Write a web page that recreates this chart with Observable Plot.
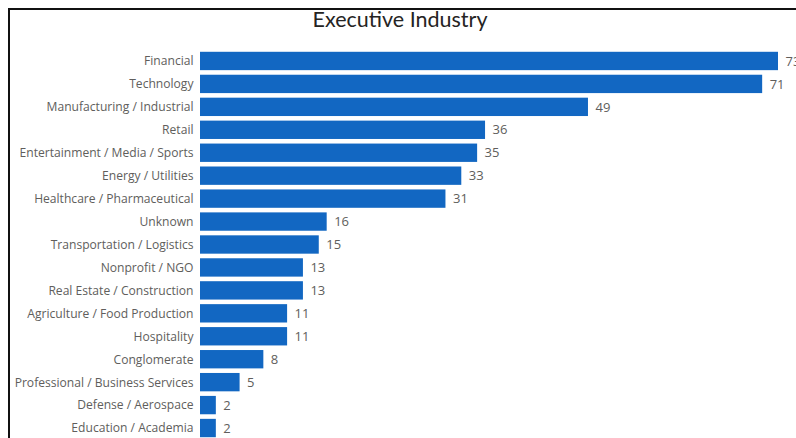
<!DOCTYPE html>
<html>
<head>
<meta charset="utf-8">
<script src="https://cdn.jsdelivr.net/npm/d3@7"></script>
<script src="https://cdn.jsdelivr.net/npm/@observablehq/plot@0.6"></script>
<style>
  html, body { margin: 0; padding: 0; background: #fff; overflow: hidden; }
  #wrap { position: relative; width: 796px; height: 438px; overflow: hidden; }
  #frame { position: absolute; left: 8px; top: 8px; width: 800px; height: 440px;
           border-left: 2px solid #111; border-top: 2px solid #111; box-sizing: border-box; pointer-events: none; }
  #title { position: absolute; left: 0; width: 800px; top: 6px; text-align: center;
           font-family: "Lato", "DejaVu Sans", sans-serif; font-size: 21.5px; color: #252423; }
  #chart { position: absolute; left: 0; top: 0; }
  #chart svg { overflow: visible; }
</style>
</head>
<body>
<div id="wrap">
  <div id="chart"></div>
  <div id="frame"></div>
  <div id="title">Executive Industry</div>
</div>
<script>
const industries = [
  "Financial", "Technology", "Manufacturing / Industrial", "Retail",
  "Entertainment / Media / Sports", "Energy / Utilities", "Healthcare / Pharmaceutical",
  "Unknown", "Transportation / Logistics", "Nonprofit / NGO", "Real Estate / Construction",
  "Agriculture / Food Production", "Hospitality", "Conglomerate",
  "Professional / Business Services", "Defense / Aerospace", "Education / Academia"
];
const counts = [73, 71, 49, 36, 35, 33, 31, 16, 15, 13, 13, 11, 11, 8, 5, 2, 2];

const data = industries.map((industry, i) => ({industry, count: counts[i]}));

const chart = Plot.plot({
  width: 796,
  height: 438,
  marginLeft: 200,
  marginRight: 18,
  marginTop: 0,
  marginBottom: 0,
  style: {fontFamily: "'Open Sans', 'Noto Sans', sans-serif", background: "transparent", overflow: "visible"},
  x: {domain: [0, 73], axis: null},
  y: {domain: industries, range: [49.5, 439.5], round: false, paddingInner: 0.2, paddingOuter: 0.1, label: null},
  marks: [
    Plot.barX(data, {x: "count", y: "industry", fill: "#1267C2"}),
    Plot.text(data, {x: "count", y: "industry", text: d => String(d.count), textAnchor: "start", dx: 7,
      fill: "#605E5C", fontSize: 13}),
    Plot.axisY({tickSize: 0, tickPadding: 7, fontSize: 12.1, color: "#605E5C", label: null})
  ]
});
document.getElementById("chart").appendChild(chart);
</script>
</body>
</html>
